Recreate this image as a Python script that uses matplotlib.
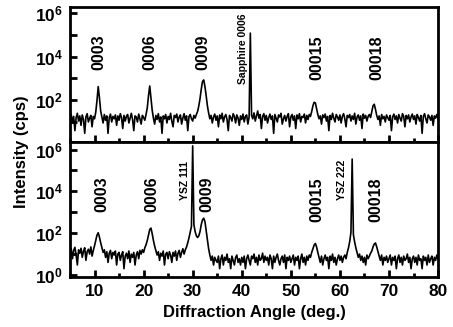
import numpy as np
import matplotlib
matplotlib.use('Agg')
import matplotlib.pyplot as plt
from matplotlib.ticker import FixedLocator, FuncFormatter, MultipleLocator

plt.rcParams['font.family'] = ['Liberation Sans', 'DejaVu Sans']
plt.rcParams['font.weight'] = 'bold'
plt.rcParams['mathtext.fontset'] = 'custom'
plt.rcParams['mathtext.rm'] = 'Liberation Sans:bold'
plt.rcParams['mathtext.bf'] = 'Liberation Sans:bold'

# scan grid: 5 .. 80 deg in 0.25 deg steps
angle = np.arange(5.0, 80.001, 0.25)

# upper scan (film on sapphire), cps
upper_counts = [
    14, 22, 9, 18, 4, 16, 25, 11, 19, 7, 21, 13, 3, 17, 24, 10, 15, 20, 6, 18,
    14, 28, 95, 420, 130, 32, 17, 9, 22, 12, 19, 3, 16, 23, 10, 18, 14, 21, 7, 19,
    12, 24, 16, 5, 20, 11, 18, 22, 9, 15, 25, 13, 4, 19, 17, 10, 23, 14, 8, 20,
    16, 12, 22, 45, 160, 450, 120, 35, 15, 8, 20, 13, 24, 10, 17, 3, 19, 14, 22, 9,
    18, 13, 25, 11, 6, 20, 16, 23, 10, 17, 21, 8, 15, 24, 12, 19, 4, 18, 22, 14,
    11, 20, 15, 22, 30, 55, 120, 320, 720, 850, 420, 160, 55, 26, 14, 20, 9, 17, 23, 12,
    19, 6, 21, 14, 25, 10, 17, 22, 13, 4, 20, 16, 11, 24, 18, 9, 21, 15, 7, 19,
    13, 23, 10, 18, 21, 8, 17, 120000, 20, 14, 26, 11, 19, 32, 15, 22, 5, 18, 24, 12,
    20, 9, 16, 23, 13, 19, 3, 22, 15, 10, 21, 17, 25, 8, 14, 20, 11, 18, 24, 6,
    17, 22, 12, 19, 5, 21, 14, 24, 10, 18, 16, 23, 9, 20, 13, 22, 18, 30, 55, 80,
    75, 40, 22, 14, 19, 8, 21, 16, 23, 11, 18, 4, 20, 13, 25, 15, 10, 22, 17, 12,
    21, 9, 18, 24, 14, 6, 20, 16, 22, 11, 19, 13, 25, 8, 17, 21, 12, 19, 5, 23,
    15, 20, 11, 18, 22, 16, 30, 55, 65, 38, 20, 13, 19, 7, 22, 14, 18, 10, 21, 16,
    12, 20, 4, 17, 23, 13, 19, 9, 22, 15, 11, 24, 18, 6, 20, 14, 21, 10, 17, 23,
    13, 19, 8, 22, 16, 11, 20, 3, 18, 24, 14, 9, 21, 17, 12, 20, 7, 19, 15, 22,
    14,
]

# lower scan (film on YSZ), cps
lower_counts = [
    12, 18, 6, 15, 21, 9, 3, 16, 11, 19, 7, 14, 20, 5, 13, 17, 10, 22, 8, 15,
    25, 45, 80, 105, 65, 35, 20, 12, 16, 7, 13, 4, 11, 15, 6, 12, 9, 14, 3, 10,
    12, 5, 9, 13, 2, 8, 11, 6, 14, 4, 10, 7, 12, 3, 9, 13, 6, 15, 10, 16,
    12, 20, 28, 45, 80, 150, 175, 95, 45, 24, 15, 9, 13, 5, 11, 8, 14, 3, 10, 12,
    6, 13, 9, 4, 12, 8, 14, 5, 11, 15, 7, 12, 18, 10, 16, 22, 35, 60, 110, 210,
    1500000, 260, 120, 75, 62, 75, 120, 260, 430, 520, 360, 130, 45, 18, 9, 5, 8, 3, 7, 5,
    4, 8, 2, 6, 9, 3, 7, 5, 10, 4, 6, 2, 8, 5, 3, 7, 9, 4, 6, 3,
    7, 4, 8, 2, 6, 9, 5, 3, 8, 6, 10, 4, 7, 3, 9, 5, 6, 11, 4, 8,
    5, 7, 3, 9, 6, 2, 8, 4, 7, 10, 5, 3, 6, 8, 4, 9, 2, 7, 5, 8,
    4, 6, 9, 3, 7, 5, 8, 2, 6, 10, 4, 7, 3, 8, 5, 9, 7, 12, 18, 27,
    32, 22, 12, 7, 4, 8, 3, 6, 9, 5, 7, 2, 8, 5, 10, 4, 7, 3, 6, 9,
    5, 8, 4, 7, 9, 6, 12, 20, 40, 110, 350000, 85, 38, 20, 12, 7, 10, 5, 8, 4,
    7, 3, 9, 6, 8, 11, 14, 22, 30, 34, 22, 13, 8, 5, 9, 3, 7, 5, 8, 4,
    6, 9, 3, 7, 5, 8, 2, 6, 9, 4, 7, 3, 8, 5, 6, 10, 4, 7, 2, 6,
    8, 4, 7, 3, 9, 5, 6, 2, 8, 5, 7, 3, 9, 4, 6, 8, 3, 7, 5, 9,
    6,
]

# peak labels (text, angle)
upper_labels = ["0003", "0006", "0009", "00015", "00018"]
upper_label_pos = [10.9, 21.3, 32.1, 55.3, 67.6]
lower_labels = ["0003", "0006", "0009", "00015", "00018"]
lower_label_pos = [11.5, 21.7, 32.9, 55.3, 67.4]
upper_phase = ["Sapphire 0006"]
upper_phase_pos = [40.3]
lower_phase = ["YSZ 111", "YSZ 222"]
lower_phase_pos = [28.4, 60.4]


def log_label(v, pos):
    e = int(round(np.log10(v)))
    if e % 2:
        return ""
    return r"$\mathbf{10^{%d}}$" % e


def style_axis(ax, ylim, first_decade):
    ax.set_yscale('log')
    ax.set_xlim(5, 80)
    ax.set_ylim(*ylim)
    ax.yaxis.set_major_locator(
        FixedLocator([10.0 ** k for k in range(first_decade, 7)]))
    ax.yaxis.set_major_formatter(FuncFormatter(log_label))
    ax.yaxis.set_minor_locator(FixedLocator([]))
    ax.xaxis.set_major_locator(MultipleLocator(10))
    ax.xaxis.set_minor_locator(MultipleLocator(5))
    ax.tick_params(which='major', direction='in', length=5, width=2,
                   labelsize=12.5, pad=5, top=False, right=False)
    ax.tick_params(which='minor', direction='in', length=3, width=2,
                   top=False, right=False)
    for spine in ax.spines.values():
        spine.set_linewidth(2)


fig = plt.figure(figsize=(4.53, 3.27), dpi=100)
ax_top = fig.add_axes([0.1545, 0.5657, 0.8125, 0.4129])
ax_bot = fig.add_axes([0.1545, 0.1529, 0.8125, 0.4128])

ax_top.plot(angle, upper_counts, color='black', lw=1.2)
ax_bot.plot(angle, lower_counts, color='black', lw=1.2)

style_axis(ax_top, (1.2, 1.9e6), 1)
style_axis(ax_bot, (0.8, 2.3e6), 0)
ax_top.tick_params(labelbottom=False)

for name, x in zip(upper_labels, upper_label_pos):
    y = 1.6e4 if len(name) == 4 else 9e3
    ax_top.text(x, y, name, rotation=90, ha='center', va='center',
                fontsize=11.5, fontweight='bold')
for name, x in zip(lower_labels, lower_label_pos):
    y = 7e3 if len(name) == 4 else 4e3
    ax_bot.text(x, y, name, rotation=90, ha='center', va='center',
                fontsize=11.5, fontweight='bold')
for name, x in zip(upper_phase, upper_phase_pos):
    ax_top.text(x, 2.2e4, name, rotation=90, ha='center', va='center',
                fontsize=7.5, fontweight='bold')
for name, x in zip(lower_phase, lower_phase_pos):
    ax_bot.text(x, 3.4e4, name, rotation=90, ha='center', va='center',
                fontsize=7.5, fontweight='bold')

ax_bot.set_xlabel("Diffraction Angle (deg.)", fontsize=12, fontweight='bold',
                  labelpad=4)
fig.text(0.047, 0.535, "Intensity (cps)", rotation=90, ha='center',
         va='center', fontsize=12, fontweight='bold')

fig.savefig('out.png', dpi=100)
